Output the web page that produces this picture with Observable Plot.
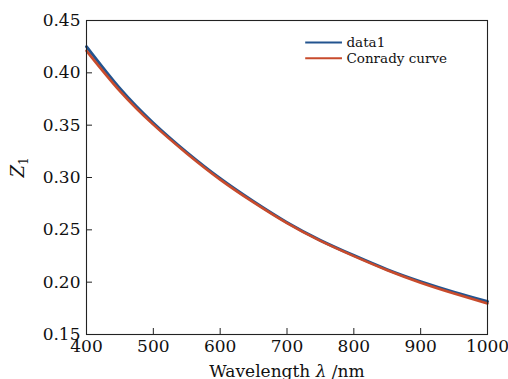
<!DOCTYPE html>
<html>
<head>
<meta charset="utf-8">
<script src="https://cdn.jsdelivr.net/npm/d3@7"></script>
<script src="https://cdn.jsdelivr.net/npm/@observablehq/plot@0.6"></script>
<style>
  html, body { margin: 0; padding: 0; background: #fff; }
  svg { font-family: "DejaVu Serif", "Liberation Serif", serif; }
</style>
</head>
<body>
<div id="chart"></div>
<script>
// Data
const wavelengths = [400, 450, 500, 550, 600, 650, 700, 750, 800, 850, 900, 950, 1000];
const data1Values = [0.425, 0.385, 0.352, 0.324, 0.299, 0.277, 0.257, 0.240, 0.2255, 0.212, 0.2005, 0.1905, 0.1815];
const conradyValues = [0.421, 0.3825, 0.3505, 0.323, 0.298, 0.2762, 0.2564, 0.2394, 0.2249, 0.2114, 0.1995, 0.1892, 0.1797];
const xTicks = [400, 500, 600, 700, 800, 900, 1000];
const yTicks = [0.15, 0.20, 0.25, 0.30, 0.35, 0.40, 0.45];
const seriesNames = ["data1", "Conrady curve"];
const seriesColors = ["#23548f", "#c84b2c"];
// legend anchor in data coordinates
const legendX = [728, 783];
const legendY = [0.4290, 0.4140];

const W = 508, H = 379;
const mL = 86, mR = 21, mT = 20, mB = 45;
const plotW = W - mL - mR, plotH = H - mT - mB;

const data1 = wavelengths.map((x, i) => ({x, y: data1Values[i]}));
const conrady = wavelengths.map((x, i) => ({x, y: conradyValues[i]}));
const legend = seriesNames.map((name, i) => ({name, color: seriesColors[i], y: legendY[i]}));

const chart = Plot.plot({
  width: W,
  height: H,
  marginLeft: mL,
  marginRight: mR,
  marginTop: mT,
  marginBottom: mB,
  style: {fontFamily: "DejaVu Serif, serif", background: "#fff", color: "#111"},
  x: {domain: [400, 1000]},
  y: {domain: [0.15, 0.45]},
  marks: [
    Plot.line(data1, {x: "x", y: "y", stroke: seriesColors[0], strokeWidth: 3, curve: "natural"}),
    Plot.line(conrady, {x: "x", y: "y", stroke: seriesColors[1], strokeWidth: 2.6, curve: "natural"}),
    Plot.tickX(xTicks, {x: d => d, insetTop: plotH - 6, stroke: "#222", strokeWidth: 1}),
    Plot.tickY(yTicks, {y: d => d, insetRight: plotW - 6, stroke: "#222", strokeWidth: 1}),
    Plot.axisX({ticks: xTicks, tickSize: 0, tickPadding: 5, fontSize: 17, label: null, tickFormat: d => String(d)}),
    Plot.axisY({ticks: yTicks, tickSize: 0, tickPadding: 6, fontSize: 17, label: null, tickFormat: d => d.toFixed(2)}),
    Plot.frame({stroke: "#222", strokeWidth: 1.1}),
    Plot.ruleY(legend, {y: "y", x1: legendX[0], x2: legendX[1], stroke: "color", strokeWidth: 2}),
    Plot.text(legend, {y: "y", x: legendX[1], text: "name", dx: 4, textAnchor: "start", fontSize: 13.5, fill: "#111"}),
    Plot.text(["Wavelength λ /nm"], {frameAnchor: "bottom", dy: 42, lineAnchor: "bottom", fontSize: 17, fill: "#111", className: "xlabel"}),
    Plot.text(["Z1"], {frameAnchor: "left", dx: -68, rotate: -90, fontSize: 18, fill: "#111", className: "ylabel"})
  ]
});

document.getElementById("chart").appendChild(chart);

// italic λ in the x label
d3.select(chart).selectAll(".xlabel text").each(function() {
  const t = d3.select(this);
  t.text(null);
  t.append("tspan").text("Wavelength ");
  t.append("tspan").attr("font-style", "italic").text("λ");
  t.append("tspan").text(" /nm");
});
// italic Z with subscript 1
d3.select(chart).selectAll(".ylabel text").each(function() {
  const t = d3.select(this);
  t.text(null);
  t.append("tspan").attr("font-style", "italic").text("Z");
  t.append("tspan").attr("font-size", "12").attr("dy", "0.3em").text("1");
});
</script>
</body>
</html>
